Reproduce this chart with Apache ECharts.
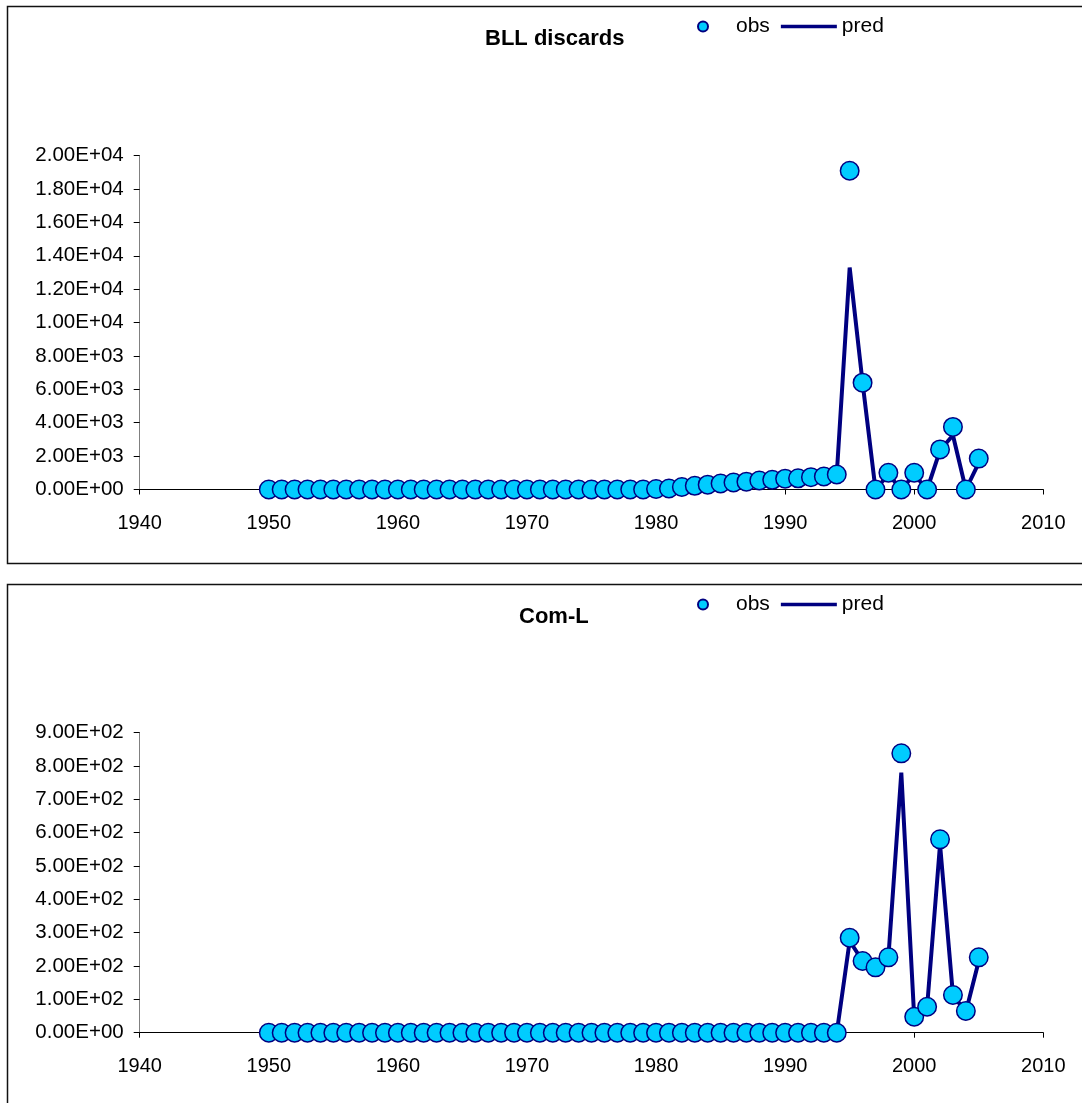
<!DOCTYPE html>
<html>
<head>
<meta charset="utf-8">
<style>
  html, body { margin: 0; padding: 0; background: #fff; }
  #chart { width: 1082px; height: 1103px; }
</style>
<script src="https://cdn.jsdelivr.net/npm/echarts@6/dist/echarts.min.js"></script>
</head>
<body>
<div id="chart"></div>
<script>
// ---- Data ----
const years = [1950,1951,1952,1953,1954,1955,1956,1957,1958,1959,
               1960,1961,1962,1963,1964,1965,1966,1967,1968,1969,
               1970,1971,1972,1973,1974,1975,1976,1977,1978,1979,
               1980,1981,1982,1983,1984,1985,1986,1987,1988,1989,
               1990,1991,1992,1993,1994,1995,1996,1997,1998,1999,
               2000,2001,2002,2003,2004,2005];

const bllObs  = [0,0,0,0,0,0,0,0,0,0,
                 0,0,0,0,0,0,0,0,0,0,
                 0,0,0,0,0,0,0,0,0,0,
                 30,60,150,220,290,360,420,470,540,580,
                 650,670,740,780,900,19100,6400,0,1000,0,
                 1000,0,2400,3750,0,1850];
const bllPred = [0,0,0,0,0,0,0,0,0,0,
                 0,0,0,0,0,0,0,0,0,0,
                 0,0,0,0,0,0,0,0,0,0,
                 30,60,150,220,290,360,420,470,540,580,
                 650,670,740,780,900,13300,6400,0,900,0,
                 900,0,2350,3250,0,1600];

const comObs  = [0,0,0,0,0,0,0,0,0,0,
                 0,0,0,0,0,0,0,0,0,0,
                 0,0,0,0,0,0,0,0,0,0,
                 0,0,0,0,0,0,0,0,0,0,
                 0,0,0,0,0,285,215,196,226,838,
                 48,78,580,113,65,226];
const comPred = [0,0,0,0,0,0,0,0,0,0,
                 0,0,0,0,0,0,0,0,0,0,
                 0,0,0,0,0,0,0,0,0,0,
                 0,0,0,0,0,0,0,0,0,0,
                 0,0,0,0,0,275,215,196,226,780,
                 45,78,565,113,62,215];

const titles = ['BLL discards', 'Com-L'];
const legendNames = ['obs', 'pred'];
const xMin = 1940, xMax = 2010, xStep = 10;
const yTop = { min: 0, max: 20000, interval: 2000 };
const yBot = { min: 0, max: 900, interval: 100 };

// ---- Helpers ----
function sci(v) {
  if (v === 0) return '0.00E+00';
  let e = Math.floor(Math.log10(Math.abs(v)));
  let m = v / Math.pow(10, e);
  if (Number(m.toFixed(2)) >= 10) { m /= 10; e += 1; }
  return m.toFixed(2) + 'E' + (e < 0 ? '-' : '+') + String(Math.abs(e)).padStart(2, '0');
}
function pairs(ys) { return years.map((y, i) => [y, ys[i]]); }

const FONT = '"Liberation Sans", Arial, sans-serif';
const NAVY = '#000080';
const CYAN = '#00CCFF';

function xAxis(gi) {
  return {
    type: 'value', gridIndex: gi, min: xMin, max: xMax, interval: xStep,
    splitLine: { show: false },
    axisLine: { show: true, onZero: false, lineStyle: { color: '#000', width: 1 } },
    axisTick: { show: true, length: 5, lineStyle: { color: '#000' } },
    axisLabel: { color: '#000', fontSize: 20, fontFamily: FONT, margin: 24,
                 formatter: v => String(v) }
  };
}
function yAxis(gi, cfg) {
  return {
    type: 'value', gridIndex: gi, min: cfg.min, max: cfg.max, interval: cfg.interval,
    splitLine: { show: false },
    axisLine: { show: true, lineStyle: { color: '#808080', width: 1 } },
    axisTick: { show: true, length: 6, lineStyle: { color: '#000' } },
    axisLabel: { color: '#000', fontSize: 20.5, fontFamily: FONT, margin: 16, formatter: sci }
  };
}
function predSeries(gi, ys) {
  return {
    name: 'pred', type: 'line', xAxisIndex: gi, yAxisIndex: gi,
    data: pairs(ys), symbol: 'none', showSymbol: false, z: 2,
    lineStyle: { color: NAVY, width: 4 }, itemStyle: { color: NAVY },
    animation: false
  };
}
function obsSeries(gi, ys) {
  return {
    name: 'obs', type: 'scatter', xAxisIndex: gi, yAxisIndex: gi,
    data: pairs(ys), symbol: 'circle', symbolSize: 18.5, z: 3,
    itemStyle: { color: CYAN, borderColor: NAVY, borderWidth: 1.5, opacity: 1 },
    animation: false
  };
}
function legend(top) {
  return {
    top: top, left: 692, orient: 'horizontal',
    itemWidth: 56, itemHeight: 10, itemGap: 11,
    symbolKeepAspect: true,
    textStyle: { color: '#000', fontSize: 21, fontFamily: FONT },
    data: [
      { name: legendNames[0], icon: 'circle' },
      { name: legendNames[1], icon: 'path://M0 0H56V3.5H0Z',
        itemStyle: { color: NAVY, borderWidth: 0 } }
    ],
    selectedMode: false
  };
}

const option = {
  backgroundColor: '#fff',
  animation: false,
  title: [
    { text: titles[0], left: 480, top: 23,
      textStyle: { fontSize: 22, fontWeight: 'bold', color: '#000', fontFamily: FONT } },
    { text: titles[1], left: 514, top: 601,
      textStyle: { fontSize: 22, fontWeight: 'bold', color: '#000', fontFamily: FONT } }
  ],
  legend: [legend(11), legend(589)],
  grid: [
    { left: 139.7, top: 155.7, width: 903.6, height: 333.8, containLabel: false },
    { left: 139.7, top: 732.7, width: 903.6, height: 300, containLabel: false }
  ],
  xAxis: [xAxis(0), xAxis(1)],
  yAxis: [yAxis(0, yTop), yAxis(1, yBot)],
  series: [
    predSeries(0, bllPred), obsSeries(0, bllObs),
    predSeries(1, comPred), obsSeries(1, comObs)
  ],
  graphic: [
    { type: 'rect', silent: true, z: 0,
      shape: { x: 7.5, y: 6.5, width: 1100, height: 557 },
      style: { fill: 'none', stroke: '#111', lineWidth: 1.5 } },
    { type: 'rect', silent: true, z: 0,
      shape: { x: 7.5, y: 584.5, width: 1100, height: 600 },
      style: { fill: 'none', stroke: '#111', lineWidth: 1.5 } }
  ]
};

const chart = echarts.init(document.getElementById('chart'), null, { renderer: 'canvas' });
chart.setOption(option);
</script>
</body>
</html>
